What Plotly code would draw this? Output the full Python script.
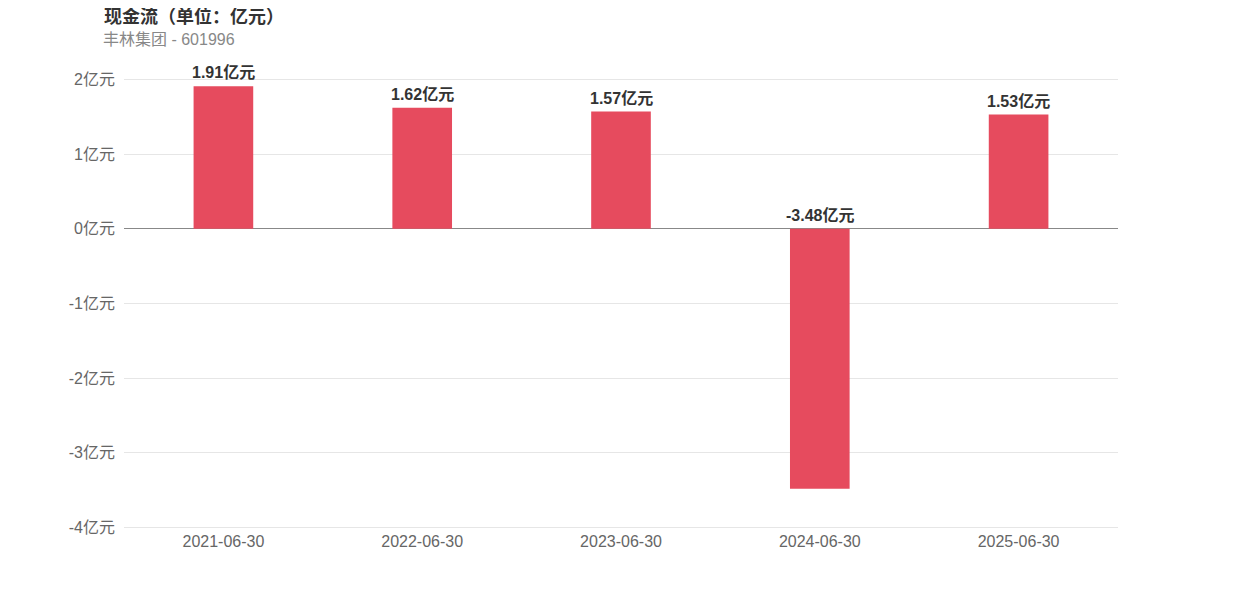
import plotly.graph_objects as go

categories = ["2021-06-30", "2022-06-30", "2023-06-30", "2024-06-30", "2025-06-30"]
values = [1.91, 1.62, 1.57, -3.48, 1.53]
labels = ["1.91亿元", "1.62亿元", "1.57亿元", "-3.48亿元", "1.53亿元"]
y_ticks = [2, 1, 0, -1, -2, -3, -4]
y_tick_text = ["2亿元", "1亿元", "0亿元", "-1亿元", "-2亿元", "-3亿元", "-4亿元"]

FONT = "Liberation Sans, Arial, Noto Sans CJK SC, sans-serif"

W, H = 1242, 596
M_L, M_R, M_T, M_B = 116, 132, 70, 75
PLOT_W = W - M_L - M_R
PLOT_H = H - M_T - M_B

fig = go.Figure()
fig.add_trace(go.Bar(
    x=categories, y=values, width=0.3,
    marker=dict(color="#E64B5E", line=dict(width=0)),
    hoverinfo="skip",
))

for c, v, t in zip(categories, values, labels):
    fig.add_annotation(
        x=c, y=max(v, 0), text=f"<b>{t}</b>", showarrow=False,
        yanchor="bottom", yshift=3,
        font=dict(family=FONT, size=16, color="#333333"),
    )

# subtitle: left edge ~96 px, centred ~31 px from figure top
fig.add_annotation(
    xref="paper", yref="paper",
    x=(96 - 3 - M_L) / PLOT_W, y=(H - M_B - 31) / PLOT_H,
    xanchor="left", yanchor="middle",
    text="丰林集团 - 601996", showarrow=False,
    font=dict(family=FONT, size=16, color="#888888"),
)

fig.update_layout(
    width=W, height=H,
    margin=dict(l=M_L, r=M_R, t=M_T, b=M_B),
    paper_bgcolor="white", plot_bgcolor="white",
    showlegend=False,
    title=dict(
        text="<b>现金流（单位：亿元）</b>",
        x=96 / W, xanchor="left", xref="container",
        y=1 - 9 / H, yanchor="middle", yref="container",
        font=dict(family=FONT, size=18, color="#333333"),
    ),
    xaxis=dict(
        type="category", showgrid=False, showline=False, zeroline=False,
        ticks="", tickfont=dict(family=FONT, size=16, color="#666666"),
        ticklabelstandoff=1,
    ),
    yaxis=dict(
        range=[-4.02, 2.02], tickvals=y_ticks, ticktext=y_tick_text,
        showgrid=True, gridcolor="#e6e6e6", gridwidth=1,
        zeroline=True, zerolinecolor="#888888", zerolinewidth=1.2,
        showline=False, ticks="",
        tickfont=dict(family=FONT, size=16, color="#666666"),
        ticklabelstandoff=8,
    ),
)

fig.write_html("out.html")
